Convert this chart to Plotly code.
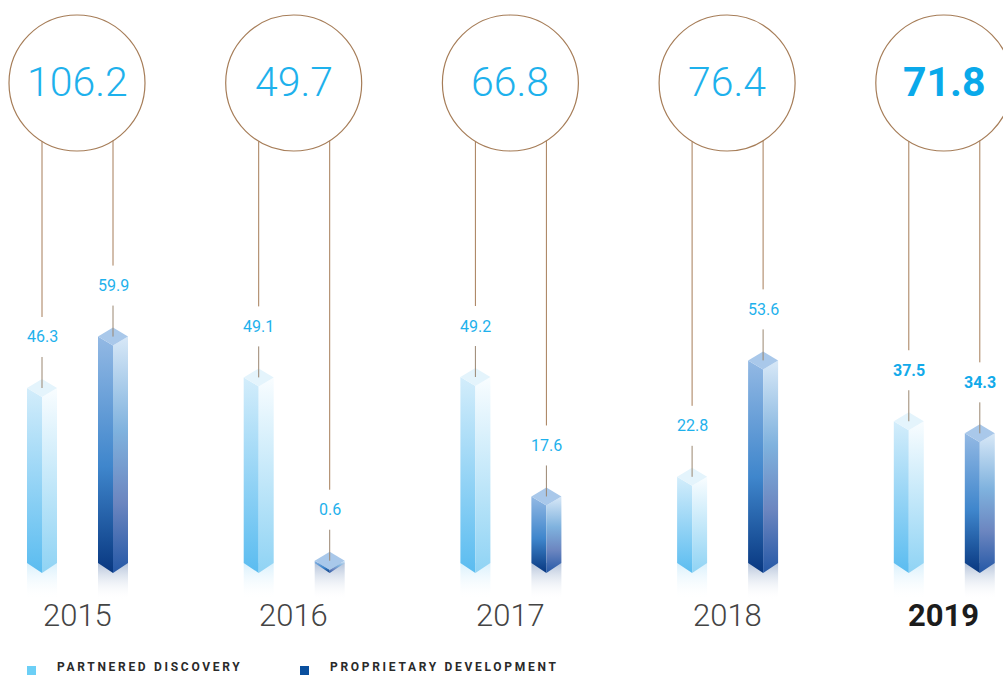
import math
import plotly.graph_objects as go

# ---------------- data ----------------
years = ["2015", "2016", "2017", "2018", "2019"]
totals = [106.2, 49.7, 66.8, 76.4, 71.8]
partnered = [46.3, 49.1, 49.2, 22.8, 37.5]
proprietary = [59.9, 0.6, 17.6, 53.6, 34.3]
series_names = ["PARTNERED DISCOVERY", "PROPRIETARY DEVELOPMENT"]
highlight_year = "2019"

# ---------------- geometry (pixel-based scales) ----------------
W, H = 1003, 675
GROUP_PX = 216.7      # pixels per category step
UNIT_PX = 3.78        # pixels per value unit
X0_PX = 77            # pixel centre of first category
BASE_PX = 563         # pixel row of value 0

x_range = [-X0_PX / GROUP_PX, (W - X0_PX) / GROUP_PX]
y_range = [-(H - BASE_PX) / UNIT_PX, BASE_PX / UNIT_PX]


def dx(px):
    return px / GROUP_PX


def dy(px):
    return px / UNIT_PX


BAR_OFF = [dx(-35), dx(36)]
HW = dx(15)
TOP_D = dy(9)
BOT_D = dy(10)
CIRCLE_R_PX = 68
CIRCLE_CY = dy(BASE_PX - 83)
LABEL_GAP = dy(51)
LABEL_HALF = dy(20)
REFL = dy(37)

BROWN = "#a67d58"
TXT_BLUE = "#1eb1ec"
THIN = "Roboto Light, Roboto, sans-serif"

styles = [
    dict(left=[[0, "#5abcf0"], [1, "#d3edfb"]],
         right=[[0, "#8fd3f4"], [1, "#f9fdff"]],
         top="#e4f4fc",
         refl=[[0, "rgba(255,255,255,0)"], [1, "#d8f0fc"]]),
    dict(left=[[0, "#083780"], [0.45, "#3f86cc"], [1, "#93b9e4"]],
         right=[[0, "#2558a6"], [0.3, "#6c86c0"], [0.6, "#7fb2de"], [1, "#d8e8f7"]],
         top="#a9c8ea",
         refl=[[0, "rgba(255,255,255,0)"], [1, "#b4c3da"]]),
]

fig = go.Figure()


def poly(xs, ys, grad=None, color=None):
    kw = dict(x=xs + [xs[0]], y=ys + [ys[0]], mode="lines", fill="toself",
              line=dict(width=0), hoverinfo="skip", showlegend=False)
    if grad is not None:
        kw["fillgradient"] = dict(type="vertical", colorscale=grad)
    else:
        kw["fillcolor"] = color
    fig.add_trace(go.Scatter(**kw))


series_vals = [partnered, proprietary]
shapes = []
annotations = []

for i, yr in enumerate(years):
    bold = yr == highlight_year
    # circle with total
    shapes.append(dict(type="circle", xref="x", yref="y",
                       x0=i - dx(CIRCLE_R_PX), x1=i + dx(CIRCLE_R_PX),
                       y0=CIRCLE_CY - dy(CIRCLE_R_PX), y1=CIRCLE_CY + dy(CIRCLE_R_PX),
                       line=dict(color=BROWN, width=1.2), layer="above"))
    annotations.append(dict(x=i, y=CIRCLE_CY + dy(1), xref="x", yref="y",
                            text=f"{totals[i]:.1f}", showarrow=False,
                            font=dict(family="Roboto" if bold else THIN, size=41,
                                      color="#0aa9ea" if bold else TXT_BLUE,
                                      weight=700 if bold else 300)))
    annotations.append(dict(x=i, y=-dy(52), xref="x", yref="y", text=yr,
                            showarrow=False,
                            font=dict(family="Roboto" if bold else THIN, size=31,
                                      color="#1c1c1c" if bold else "#444444",
                                      weight=700 if bold else 300)))
    for s in range(2):
        v = series_vals[s][i]
        c = i + BAR_OFF[s]
        st = styles[s]
        # reflection
        poly([c - HW, c + HW, c + HW, c - HW], [0, 0, -REFL, -REFL], grad=st["refl"])
        # faces
        poly([c - HW, c, c, c - HW], [v, v - TOP_D, -BOT_D, 0], grad=st["left"])
        poly([c, c + HW, c + HW, c], [v - TOP_D, v, 0, -BOT_D], grad=st["right"])
        poly([c - HW, c, c + HW, c], [v, v + TOP_D, v, v - TOP_D], color=st["top"])
        # connector lines
        off_px = BAR_OFF[s] * GROUP_PX
        y_start = CIRCLE_CY - dy(math.sqrt(CIRCLE_R_PX ** 2 - off_px ** 2))
        lab_y = v + LABEL_GAP
        shapes.append(dict(type="line", xref="x", yref="y", x0=c, x1=c,
                           y0=y_start, y1=lab_y + LABEL_HALF,
                           line=dict(color=BROWN, width=1), layer="above"))
        shapes.append(dict(type="line", xref="x", yref="y", x0=c, x1=c,
                           y0=lab_y - LABEL_HALF, y1=v,
                           line=dict(color="#9a8670", width=1), layer="above"))
        annotations.append(dict(x=c, y=lab_y, xref="x", yref="y",
                                text=f"{v:.1f}", showarrow=False,
                                font=dict(family="Roboto", size=16,
                                          color="#12aaea" if bold else TXT_BLUE,
                                          weight=700 if bold else 400)))

# legend
leg_colors = ["#6ccff6", "#0a4f9e"]
leg_sq_px = [27, 300]
leg_txt_px = [55, 328]
for k in range(2):
    shapes.append(dict(type="rect", xref="paper", yref="paper",
                       x0=leg_sq_px[k] / W, x1=(leg_sq_px[k] + 9) / W,
                       y0=1 - 675 / H, y1=1 - 666 / H,
                       fillcolor=leg_colors[k], line=dict(width=0)))
    annotations.append(dict(x=leg_txt_px[k] / W, y=1 - 667 / H, xref="paper", yref="paper",
                            text=series_names[k], showarrow=False, xanchor="left",
                            yanchor="middle",
                            font=dict(family="Roboto", size=12, color="#2a2a2a", weight=700)))

fig.update_layout(
    width=W, height=H,
    margin=dict(l=0, r=0, t=0, b=0),
    paper_bgcolor="white", plot_bgcolor="white",
    xaxis=dict(range=x_range, visible=False, fixedrange=True),
    yaxis=dict(range=y_range, visible=False, fixedrange=True),
    shapes=shapes, annotations=annotations,
    showlegend=False,
)

post = """
document.body.style.margin = '0';
document.body.style.overflow = 'hidden';
var gd = document.getElementById('{plot_id}');
function spaceOut(){
  gd.querySelectorAll('text.annotation-text').forEach(function(t){
    if (/^[A-Z ]+$/.test(t.textContent) && !t.dataset.spaced) {
      var before = t.getBBox().x;
      t.style.letterSpacing = '2.7px';
      var after = t.getBBox().x;
      t.setAttribute('x', parseFloat(t.getAttribute('x')) + (before - after));
      t.dataset.spaced = '1';
    }
  });
}
spaceOut();
gd.on('plotly_afterplot', spaceOut);
"""
fig.write_html("out.html", post_script=post, config={"displayModeBar": False})
